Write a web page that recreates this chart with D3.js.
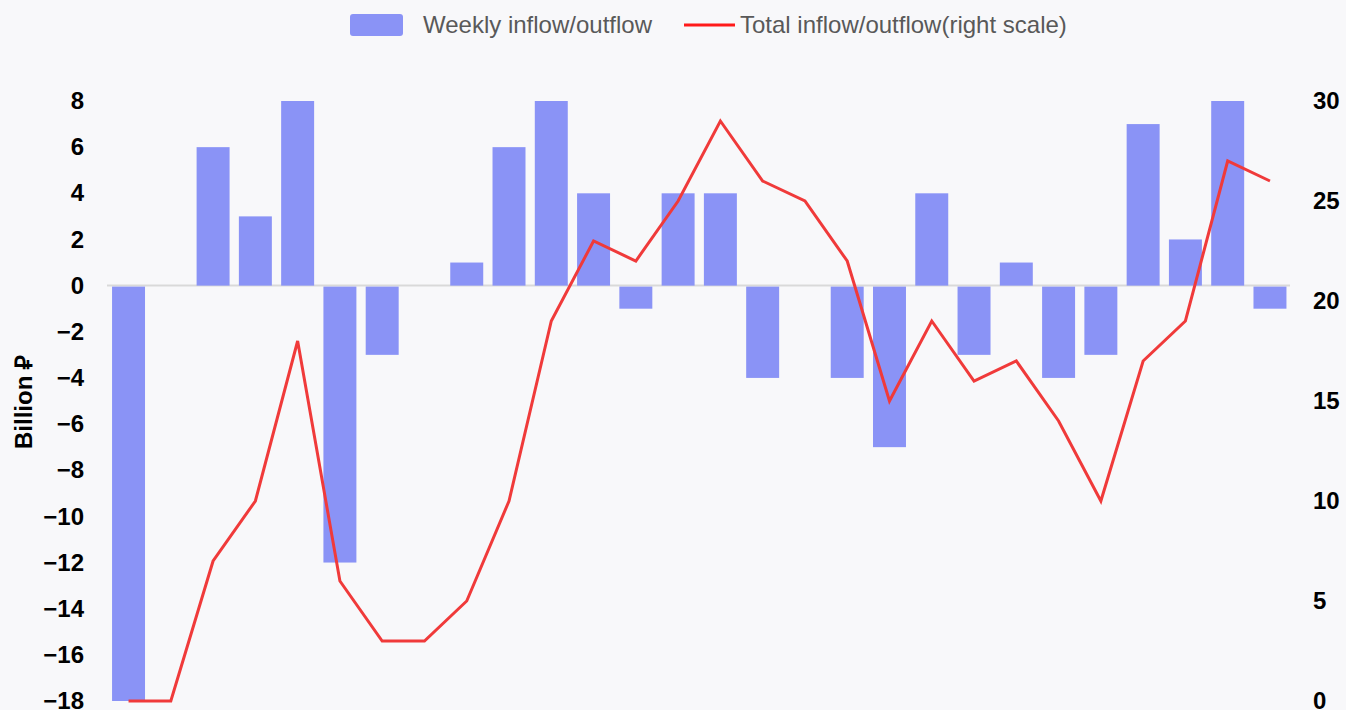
<!DOCTYPE html>
<html><head><meta charset="utf-8">
<script src="https://cdn.jsdelivr.net/npm/d3@7"></script>
<style>
html,body{margin:0;padding:0;background:#f8f8fa;}
svg{display:block;font-family:"Liberation Sans",Arial,sans-serif;}
</style></head><body>
<svg id="c" width="1346" height="710"></svg>
<script>
const weeks = d3.range(1, 29).map(String);
const weeklyFlow = [-18,0,6,3,8,-12,-3,0,1,6,8,4,-1,4,4,-4,0,-4,-7,4,-3,1,-4,-3,7,2,8,-1];
const totalFlow = [0,0,7,10,18,6,3,3,5,10,19,23,22,25,29,26,25,22,15,19,16,17,14,10,17,19,27,26];
const leftTicks = [8,6,4,2,0,-2,-4,-6,-8,-10,-12,-14,-16,-18];
const rightTicks = [0,5,10,15,20,25,30];

const svg = d3.select("#c");
const x = d3.scaleBand().domain(weeks).range([107.4, 1291.1]).paddingInner(0.22).paddingOuter(0.11);
const yL = d3.scaleLinear().domain([-18, 8]).range([701, 101]);
const yR = d3.scaleLinear().domain([0, 30]).range([701, 101]);

// zero line
svg.append("line").attr("x1", 107).attr("x2", 1290).attr("y1", yL(0)).attr("y2", yL(0))
  .attr("stroke", "#d9d9d9").attr("stroke-width", 2);

// bars
svg.append("g").selectAll("rect").data(weeklyFlow).join("rect")
  .attr("x", (d, i) => x(weeks[i]))
  .attr("width", x.bandwidth())
  .attr("y", d => d >= 0 ? yL(d) : yL(0) + 1)
  .attr("height", d => Math.max(0, Math.abs(yL(d) - yL(0)) - (d < 0 ? 1 : 0)))
  .attr("fill", "#8a93f6");

// line
const line = d3.line().x((d, i) => x(weeks[i]) + x.bandwidth() / 2).y(d => yR(d));
svg.append("path").datum(totalFlow).attr("d", line)
  .attr("fill", "none").attr("stroke", "#f03a3a").attr("stroke-width", 3).attr("stroke-linejoin", "miter");

// axes
const axL = svg.append("g").attr("transform", "translate(84,0)")
  .call(d3.axisLeft(yL).tickValues(leftTicks).tickSize(0).tickPadding(0));
axL.select(".domain").remove();
axL.selectAll("text").attr("font-size", 24).attr("font-weight", "bold").attr("fill", "#000")
  .attr("font-family", "Liberation Sans, Arial, sans-serif");

const axR = svg.append("g").attr("transform", "translate(1313,0)")
  .call(d3.axisRight(yR).tickValues(rightTicks).tickSize(0).tickPadding(0));
axR.select(".domain").remove();
axR.selectAll("text").attr("font-size", 24).attr("font-weight", "bold").attr("fill", "#000")
  .attr("font-family", "Liberation Sans, Arial, sans-serif");

svg.append("text").attr("transform", "translate(32,402) rotate(-90)")
  .attr("text-anchor", "middle").attr("font-size", 24).attr("font-weight", "bold")
  .attr("fill", "#000").text("Billion ₽");

// legend
const lg = svg.append("g");
lg.append("rect").attr("x", 350).attr("y", 14).attr("width", 53).attr("height", 22).attr("rx", 3)
  .attr("fill", "#8a93f6");
lg.append("text").attr("x", 423).attr("y", 25).attr("dy", "0.35em").attr("font-size", 24)
  .attr("fill", "#595959").text("Weekly inflow/outflow");
lg.append("line").attr("x1", 684).attr("x2", 735).attr("y1", 25).attr("y2", 25)
  .attr("stroke", "#ff1a1a").attr("stroke-width", 3);
lg.append("text").attr("x", 740).attr("y", 25).attr("dy", "0.35em").attr("font-size", 24)
  .attr("fill", "#595959").text("Total inflow/outflow(right scale)");
</script>
</body></html>
